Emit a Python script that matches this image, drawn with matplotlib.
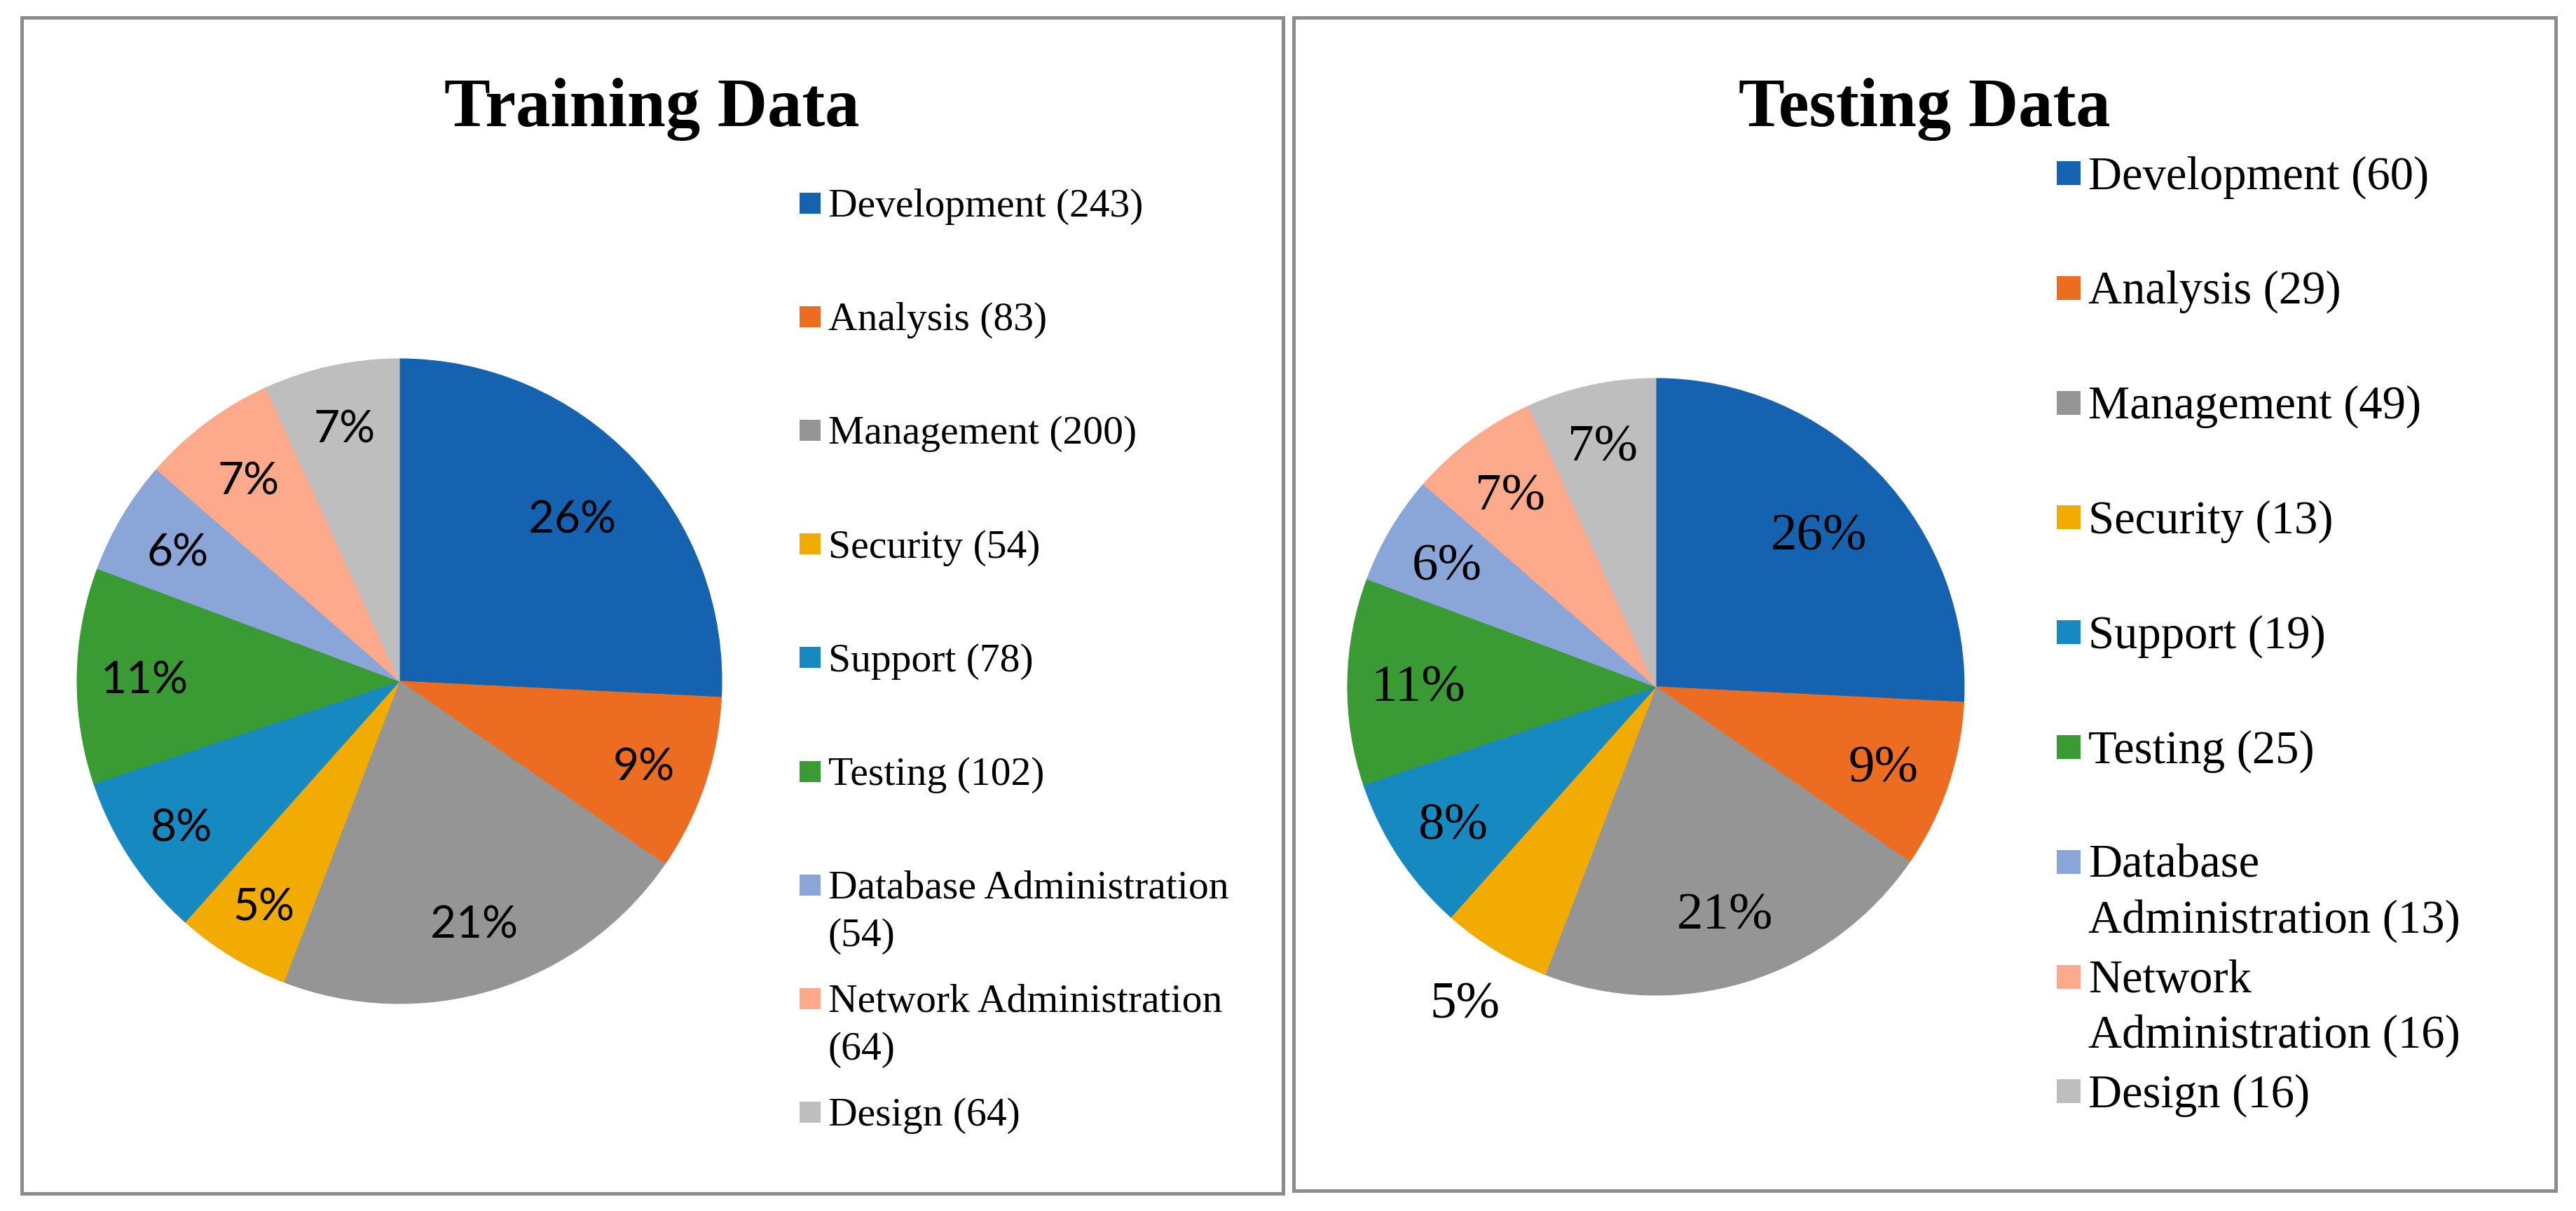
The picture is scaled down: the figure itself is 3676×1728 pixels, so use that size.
import textwrap
import matplotlib
matplotlib.use('Agg')
import matplotlib.pyplot as plt
from matplotlib.patches import Rectangle
import numpy as np

# ---- data ----
categories = ['Development', 'Analysis', 'Management', 'Security', 'Support',
              'Testing', 'Database Administration', 'Network Administration', 'Design']
train_counts = [243, 83, 200, 54, 78, 102, 54, 64, 64]
test_counts = [60, 29, 49, 13, 19, 25, 13, 16, 16]
# the published chart shows the same slice shares / labels in both pies
pct_labels = ['26%', '9%', '21%', '5%', '8%', '11%', '6%', '7%', '7%']

colors = ['#1563B0', '#EC6D22', '#959595', '#F2AB03', '#1689C1',
          '#3A9A34', '#8AA5D8', '#FDA98B', '#BEBEBE']

W, H = 3676, 1728
SERIF = 'Liberation Serif'

fig = plt.figure(figsize=(W / 100, H / 100), dpi=100)
fig.patch.set_facecolor('white')

# background axes in pixel coordinates (boxes, titles, legends)
bg = fig.add_axes([0, 0, 1, 1])
bg.set_xlim(0, W)
bg.set_ylim(H, 0)
bg.axis('off')

bg.add_patch(Rectangle((30.5, 24.5), 1800.5, 1678, fill=False, lw=3.6, ec='#8C8C8C'))
bg.add_patch(Rectangle((1845.5, 24.5), 1801, 1674.5, fill=False, lw=3.6, ec='#8C8C8C'))


def pie_axes(cx, cy, r):
    return fig.add_axes([(cx - r) / W, (H - cy - r) / H, 2 * r / W, 2 * r / H])


def draw_panel(title, title_x, counts, cx, cy, r, pct_font, pct_size, pct_dist,
               legend_x, legend_y0, legend_step, marker, text_size, wrap_width):
    bg.text(title_x, 180, title, ha='center', va='baseline', fontsize=71,
            fontweight='bold', family=SERIF)

    ax = pie_axes(cx, cy, r)
    wedges, _ = ax.pie(train_counts, colors=colors, startangle=90,
                       counterclock=False, radius=1,
                       wedgeprops=dict(linewidth=0.8))
    for w, col in zip(wedges, colors):
        w.set_edgecolor(col)
    ax.set_xlim(-1, 1)
    ax.set_ylim(-1, 1)
    ax.set_aspect('equal')
    for w, lab, d in zip(wedges, pct_labels, pct_dist):
        th = np.deg2rad((w.theta1 + w.theta2) / 2)
        ax.text(d * np.cos(th), d * np.sin(th), lab, ha='center',
                va='center_baseline', fontsize=pct_size, family=pct_font,
                clip_on=False)

    # legend
    em = text_size / 72 * 100
    cap = 0.662 * em
    gap = 1.18 * em
    for i, (cat, n, col) in enumerate(zip(categories, counts, colors)):
        yc = legend_y0 + i * legend_step
        bg.add_patch(Rectangle((legend_x, yc - marker / 2), marker, marker,
                               fc=col, ec='none'))
        lines = textwrap.wrap(f'{cat} ({n})', wrap_width)
        for j, ln in enumerate(lines):
            bg.text(legend_x + marker + 11, yc + cap / 2 + j * gap, ln,
                    ha='left', va='baseline', fontsize=text_size, family=SERIF)


draw_panel('Training Data', 930, train_counts, 570, 972, 460,
           'Lato', 46, [0.74, 0.8, 0.78, 0.81, 0.81, 0.79, 0.8, 0.785, 0.81],
           1141, 290, 162.1, 30, 41.5, 24)

draw_panel('Testing Data', 2746, test_counts, 2363, 980, 440,
           SERIF, 54, [0.73, 0.78, 0.76, 1.19, 0.79, 0.77, 0.79, 0.79, 0.81],
           2935, 247, 163.8, 34, 48, 19)

fig.savefig('out.png', dpi=100)
